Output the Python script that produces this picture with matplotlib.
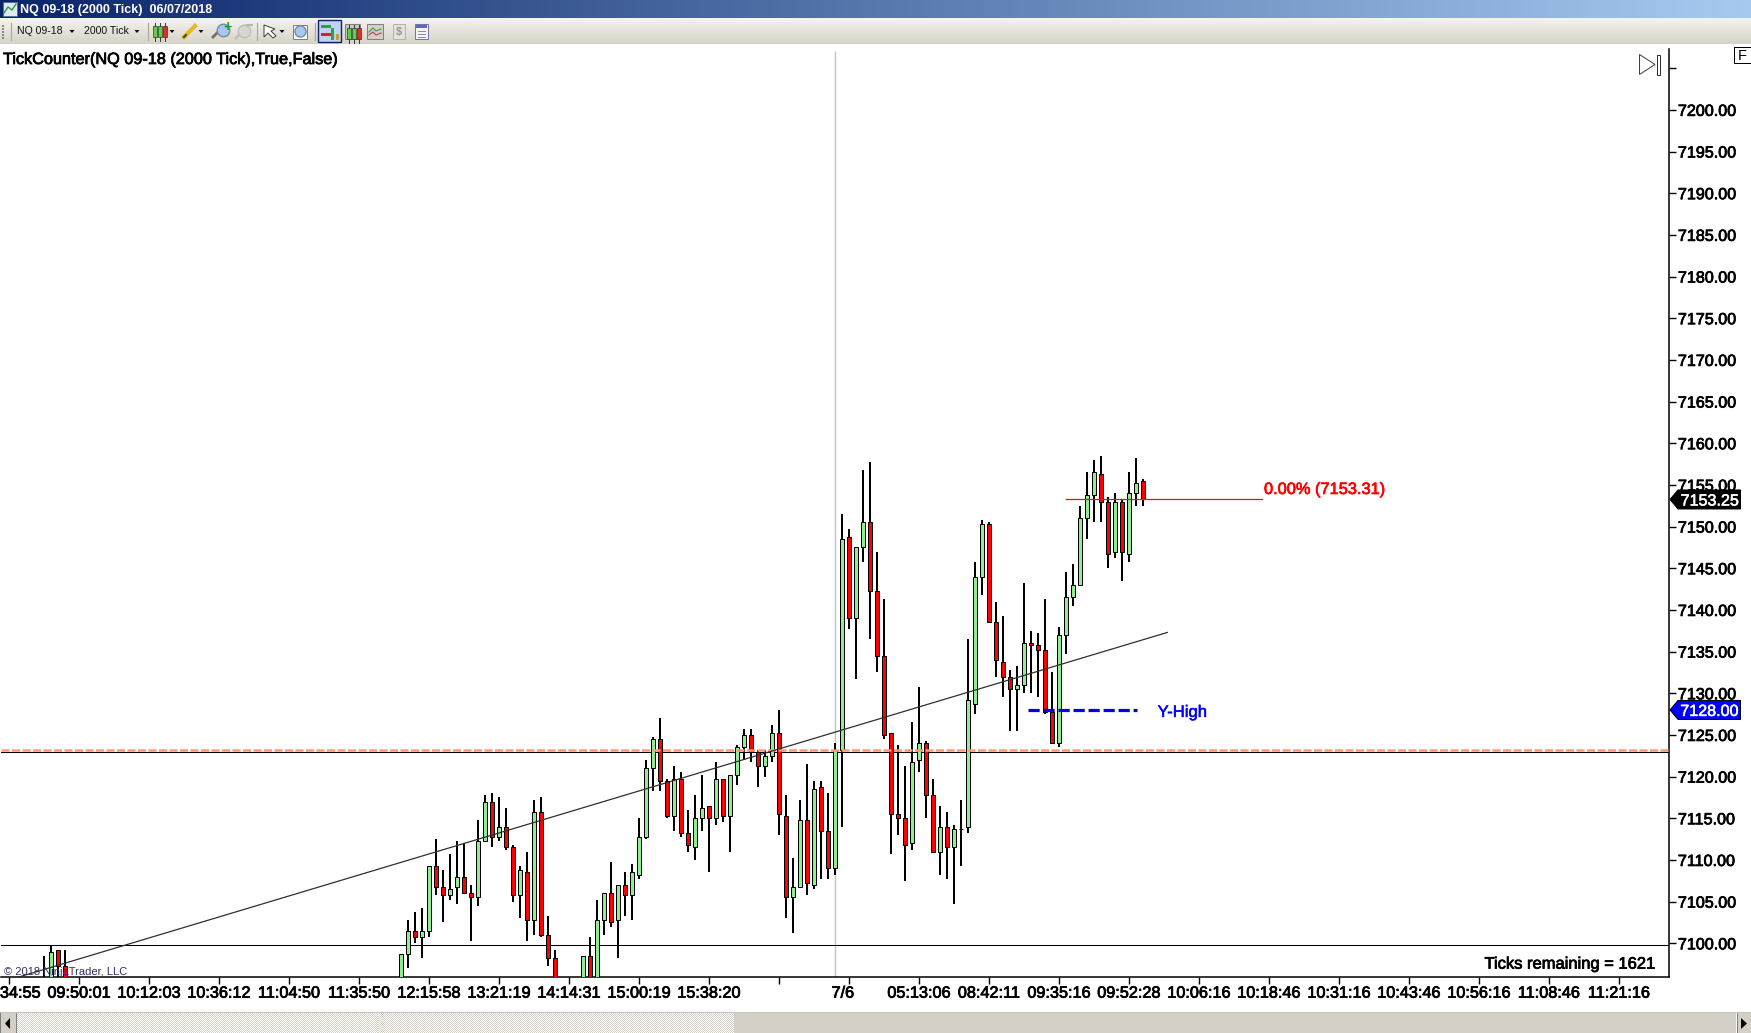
#!/usr/bin/env python
"""
Tick chart screenshot, NQ 09-18 (2000 Tick), with the window chrome around it.
Bars that sit below the visible price range are left out.
"""

import numpy as np
import matplotlib
matplotlib.use('Agg')
import matplotlib.pyplot as plt
import matplotlib.patheffects as pe
from matplotlib.colors import LinearSegmentedColormap
from matplotlib.patches import Polygon, Rectangle
from matplotlib.transforms import ScaledTranslation

plt.rcParams['font.family'] = ['Liberation Sans', 'DejaVu Sans']

W, H = 1751, 1033

# ------------ DATA ----------------------------

bar_index = [5, 6, 7, 8] + list(range(56, 79)) + list(range(82, 163))

opens = [7095, 7095, 7099.25, 7097.25,
         # 56
         7095, 7098.75, 7101.5, 7100.75, 7101.5, 7109.25, 7106.75, 7105.75, 7106.75, 7108,
         7106, 7105.5, 7112.25, 7117, 7112.75, 7114, 7111.5, 7105.75, 7108.5, 7102.75,
         7115.75, 7101, 7098.25,
         # 82
         7095, 7098.5, 7095, 7102.75, 7106, 7102.75, 7107, 7105.75, 7108.25, 7112.75,
         7121, 7124.5, 7119.5, 7115.25, 7119.75, 7113.25, 7111.5, 7115, 7116.5, 7115,
         7119.75, 7115.25, 7120.25, 7123.5, 7125, 7123, 7121.25, 7122.5, 7125.25,
         # 111
         7115.25, 7105.5, 7106.75, 7114.75, 7107, 7118.75, 7113.5, 7109, 7123.25, 7148.75,
         7139, 7147.5, 7150.5, 7142.25, 7134.5, 7125.25, 7115.5, 7115, 7112, 7122,
         7124, 7117.75, 7111, 7114, 7111.5, 7113.75, 7114, 7128.75, 7144, 7150.25,
         7138.5, 7133.75, 7132, 7130.5, 7131, 7136, 7135.75, 7135.25, 7127.75, 7124,
         7137, 7141.5, 7143, 7151, 7153.75, 7156.25, 7153, 7147, 7153, 7146.75,
         7154, 7155.5]

closes = [7095, 7099, 7097.25, 7095,
          # 56
          7098.75, 7101.5, 7100.75, 7101.5, 7109.25, 7106.75, 7105.75, 7106.5, 7108, 7106,
          7105.5, 7112.25, 7117, 7112.75, 7114, 7111.5, 7105.75, 7108.75, 7102.75, 7115.75,
          7101, 7098.25, 7095,
          # 82
          7098.5, 7095, 7102.75, 7106, 7102.5, 7107, 7105.75, 7108.5, 7112.75, 7121,
          7124.5, 7119.5, 7115.25, 7119.75, 7113.25, 7111.75, 7115, 7116.25, 7115, 7119.75,
          7115.25, 7120.25, 7123.5, 7125, 7123, 7121.25, 7122.5, 7125.25, 7115.5,
          # 111
          7105.5, 7106.75, 7114.75, 7107.25, 7118.5, 7113.5, 7109, 7123.25, 7148.5, 7139,
          7147.5, 7150.5, 7142.25, 7134.5, 7125, 7115.5, 7115, 7111.75, 7121.75, 7124,
          7117.75, 7111, 7114, 7111.5, 7113.75, 7113.75, 7129.25, 7144, 7150.25, 7138.5,
          7134, 7132, 7130.5, 7131, 7136, 7135.75, 7135.25, 7127.75, 7124, 7137,
          7141.5, 7143, 7151, 7153.75, 7156.5, 7153, 7146.75, 7153, 7147, 7154,
          7155.25, 7153.25]

highs = [7098.5, 7099.75, 7099.25, 7099.25,
         # 56
         7098.75, 7102.75, 7103.75, 7104.25, 7109.25, 7112.5, 7108.75, 7110.75, 7112.25, 7112,
         7107, 7114.75, 7117.75, 7118, 7117.5, 7116.25, 7111.75, 7109.25, 7111, 7117.25,
         7117.5, 7103.25, 7099.25,
         # 82
         7098.5, 7100.75, 7105.25, 7106, 7109.75, 7107, 7108.5, 7109.5, 7115, 7122,
         7124.75, 7127, 7119.75, 7121.25, 7120.5, 7116, 7117.75, 7120.25, 7116.5, 7121.75,
         7119.75, 7120.25, 7123.75, 7125.75, 7125.75, 7123.25, 7123.25, 7126.25, 7128,
         # 111
         7117.75, 7110.25, 7117.25, 7121.5, 7119.5, 7119.5, 7118, 7124, 7151.5, 7149.75,
         7147.5, 7156.75, 7157.75, 7147, 7141.25, 7125.25, 7123.75, 7121.25, 7126.5, 7130.75,
         7124.25, 7119.75, 7116.5, 7115.75, 7114.25, 7117.25, 7136.5, 7145.75, 7150.75, 7150.5,
         7141, 7139.25, 7132.75, 7133.25, 7143.25, 7137.5, 7137.25, 7141.25, 7132.5, 7138,
         7144.5, 7145.5, 7152.5, 7156.5, 7158, 7158.5, 7153.5, 7154, 7153.25, 7156.5,
         7158.25, 7155.75]

lows = [7095, 7095, 7095, 7095,
        # 56
        7095, 7097, 7100, 7098.25, 7100.75, 7105.75, 7102.5, 7105.25, 7104.75, 7106,
        7100.25, 7104.5, 7112.25, 7111.5, 7112.25, 7111.25, 7105, 7103, 7100.25, 7101,
        7100.75, 7097.25, 7095,
        # 82
        7095, 7095, 7095, 7101, 7102, 7098.25, 7103.25, 7102.75, 7107.75, 7112.5,
        7118.25, 7118.25, 7115, 7113.5, 7112.75, 7111, 7110, 7113.5, 7108.5, 7114.25,
        7114.5, 7111, 7119, 7122, 7121.75, 7118.75, 7120, 7121.75, 7113,
        # 111
        7103, 7101.25, 7106.75, 7105.75, 7106.5, 7107.75, 7107.75, 7108.25, 7114, 7137.75,
        7131.75, 7145.75, 7136.5, 7132.5, 7124.5, 7110.75, 7113, 7107.5, 7111.25, 7120.5,
        7115, 7111, 7108.25, 7107.75, 7104.75, 7109.25, 7113.25, 7127.5, 7141.75, 7138.5,
        7132, 7129.5, 7125.5, 7125.5, 7130, 7130, 7129.5, 7127.5, 7124, 7123.5,
        7134.75, 7140.5, 7143, 7148.5, 7150.5, 7150.5, 7145, 7146.25, 7143.5, 7145.75,
        7152.5, 7152.5]

y_ticks = [7100 + 5 * n for n in range(22)]
y_tick_labels = ['{:.2f}'.format(v) if v <= 7200 else '' for v in y_ticks]

x_ticks = list(range(0, 240, 10))
x_tick_labels = ['09:34:55', '09:50:01', '10:12:03', '10:36:12', '11:04:50', '11:35:50',
                 '12:15:58', '13:21:19', '14:14:31', '15:00:19', '15:38:20', '', '7/6',
                 '05:13:06', '08:42:11', '09:35:16', '09:52:28', '10:06:16', '10:18:46',
                 '10:31:16', '10:43:46', '10:56:16', '11:08:46', '11:21:16']

session_break = 118
last_price = 7153.25
y_high = 7128.00
fib_price = 7153.25
hline_black = [7123.0, 7099.75]
hline_salmon = 7123.25
trend_x = [1.2, 165.5]
trend_y = [7095.9, 7137.3]

STROKE = [pe.withStroke(linewidth=0.55, foreground='black')]
UP, DOWN = '#90ee90', '#ff0000'


# ------------ CHROME ----------------------------

def gradient(ax, box, c0, c1, horizontal):
    cmap = LinearSegmentedColormap.from_list('g', [c0, c1])
    g = np.linspace(0, 1, 256)
    g = g.reshape(1, -1) if horizontal else g.reshape(-1, 1)
    ax.imshow(g, extent=box, cmap=cmap, aspect='auto', zorder=1)


def rect(ax, x0, y0, x1, y1, fc='none', ec='none', lw=0.72, z=3):
    ax.add_patch(Rectangle((x0, y0), x1 - x0, y1 - y0, fc=fc, ec=ec, lw=lw, zorder=z))


def tri(ax, pts, fc='black', ec='none', lw=0.72, z=3):
    ax.add_patch(Polygon(pts, closed=True, fc=fc, ec=ec, lw=lw, zorder=z))


def mini_candles(ax, x0, y0, cols):
    for n, c in enumerate(cols):
        x = x0 + n * 5
        ax.plot([x + 1.5, x + 1.5], [y0 - 3, y0 + 15], color='#333333', lw=0.7, zorder=3)
        rect(ax, x, y0, x + 3.5, y0 + 11, fc=c, ec='#333333', lw=0.5)


def draw_chrome(ui):
    gradient(ui, [0, W, 18, 0], '#0a246a', '#a6caf0', True)
    gradient(ui, [0, W, 44, 18], '#f5f4ef', '#d6d2c8', False)

    # scroll bar, dithered track
    track = np.indices((21, 718)).sum(axis=0) % 2
    ui.imshow(track, extent=[16, 734, 1033, 1012], cmap=LinearSegmentedColormap.from_list(
        'd', ['#ffffff', '#d4d0c8']), aspect='auto', interpolation='nearest', zorder=1)
    rect(ui, 734, 1012, 1736, 1033, fc='#d4d0c8')
    rect(ui, 0, 1012, 16, 1033, fc='#d4d0c8', ec='#808080')
    rect(ui, 1737, 1012, W, 1033, fc='#d4d0c8', ec='#808080')
    ui.plot([0, W], [1012, 1012], color='#c8c5bc', lw=0.8, zorder=4)
    tri(ui, [(10, 1018), (10, 1029), (5, 1023.5)], z=5)
    tri(ui, [(1741, 1018), (1741, 1029), (1747, 1023.5)], z=5)

    # title bar
    rect(ui, 3, 2, 17, 16, fc='#dfe8f5', ec='#5a6f9a')
    ui.plot([4, 8, 12, 16], [13, 7, 10, 4], color='#2e9a3a', lw=1, zorder=4)
    ui.text(20, 9.5, 'NQ 09-18 (2000 Tick)  06/07/2018', color='white', fontsize=9,
            fontweight='bold', va='center', zorder=5)

    # toolbar
    for y in range(25, 38, 3):
        rect(ui, 2, y, 4, y + 1.5, fc='#8a8a80')
    for x in [11, 148, 257, 315]:
        ui.plot([x, x], [23, 40], color='#a8a59c', lw=0.8, zorder=3)
    ui.text(17, 31, 'NQ 09-18', fontsize=7.6, color='#111111', va='center', zorder=5)
    ui.text(84, 31, '2000 Tick', fontsize=7.6, color='#111111', va='center', zorder=5)
    for x in [72, 137, 172, 201, 282]:
        tri(ui, [(x - 2.5, 30), (x + 2.5, 30), (x, 33)])
    mini_candles(ui, 153, 26, ['#59d14a', '#59d14a', '#e03020'])
    ui.plot([184, 195], [37, 26], color='#e8b820', lw=3, zorder=3)
    ui.plot([184, 186], [37, 35], color='#404040', lw=1.5, zorder=4)
    ui.plot([213, 219], [37, 31], color='#707070', lw=2, zorder=3)
    ui.plot(223, 30, 'o', ms=9, mfc='#a9c8ee', mec='#7a8aa0', zorder=3)
    ui.text(227, 27, '+', color='#10a020', fontsize=10, fontweight='bold', ha='center',
            va='center', zorder=5)
    ui.plot([236, 241], [38, 33], color='#c4c2bb', lw=2, zorder=3)
    ui.plot(244, 31, 'o', ms=9, mfc='#d8d6d0', mec='#c0beb7', zorder=3)
    ui.plot([247, 252], [25, 25], color='#b8b6ae', lw=1.5, zorder=3)
    tri(ui, [(264, 25), (264, 37), (268, 33), (273, 38), (276, 36), (271, 31), (275, 29)],
        fc='white', ec='#404040')
    rect(ui, 293, 25, 307, 39, fc='white', ec='#808080')
    ui.plot(300, 31, 'o', ms=8, mfc='#a9c8ee', mec='#7a8aa0', zorder=4)
    rect(ui, 318, 20, 341, 42, fc='#c1d2ee', ec='#0a246a', lw=1)
    rect(ui, 321, 25, 331, 28, fc='#2fa23a', z=4)
    rect(ui, 321, 33, 331, 36, fc='#e02020', z=4)
    rect(ui, 331, 28, 334, 40, fc='#2fa23a', z=4)
    rect(ui, 336, 34, 339, 40, fc='#c8a020', z=4)
    rect(ui, 345, 24, 360, 39, fc='#c8c6be', ec='#808080')
    mini_candles(ui, 347, 28, ['#59d14a', '#59d14a', '#e03020'])
    rect(ui, 367, 24, 383, 39, fc='#d2d0c8', ec='#808080')
    ui.plot([369, 373, 376, 381], [32, 28, 31, 29], color='#3a9a4a', lw=0.8, zorder=4)
    ui.plot([369, 373, 376, 381], [35, 32, 35, 33], color='#c04040', lw=0.8, zorder=4)
    rect(ui, 393, 24, 405, 39, fc='#e4e2dc', ec='#b4b2aa')
    ui.text(399, 32, '$', fontsize=8, color='#9a9890', ha='center', va='center',
            fontweight='bold', zorder=5)
    rect(ui, 415, 24, 428, 39, fc='#f4f4fa', ec='#7a70b0')
    rect(ui, 416, 25, 427, 28, fc='#5a6ac8', z=4)
    for y in [31, 34, 37]:
        ui.plot([418, 425], [y, y], color='#8a8aa0', lw=0.7, zorder=4)

    # F box and the go to end button
    rect(ui, 1733.5, 47, 1750.5, 63, fc='white', ec='black')
    ui.text(1742, 55.5, 'F', fontsize=10.5, ha='center', va='center', zorder=5)
    tri(ui, [(1639.5, 54.5), (1639.5, 74.5), (1655, 64.5)], fc='white', ec='#404040')
    rect(ui, 1656.5, 54.5, 1659.5, 74.5, fc='white', ec='#303030')


def price_flag(ui, ax, price, color):
    """Price marker that sits on the right axis, tip touching the axis line."""
    y = H - ax.transData.transform((0, price))[1]
    tri(ui, [(1670, y), (1678, y - 9.5), (1740.5, y - 9.5), (1740.5, y + 9.5), (1678, y + 9.5)],
        fc=color, ec='black', z=8)
    ui.text(1739, y, '{:.2f}'.format(price), color='white', fontsize=11.6, ha='right',
            va='center_baseline', zorder=9,
            path_effects=[pe.withStroke(linewidth=0.4, foreground='white')])


# ------------ PLOTTERS ----------------------------

def plot_candles(ax):
    idx = np.array(bar_index)
    o, c = np.array(opens), np.array(closes)
    bottom = np.minimum(o, c)
    height = np.abs(c - o)
    colors = [UP if cc >= oo else DOWN for oo, cc in zip(o, c)]
    ax.vlines(idx, lows, highs, color='black', lw=1.44, zorder=3)
    ax.bar(idx, height, bottom=bottom, width=0.58, color=colors, edgecolor='black',
           linewidth=0.72, zorder=4)


def main():
    fig = plt.figure(figsize=(W / 100, H / 100), dpi=100, facecolor='white')

    ui = fig.add_axes([0, 0, 1, 1], zorder=3)
    ui.patch.set_alpha(0)
    ui.axis('off')

    ax = fig.add_axes([1 / W, (H - 977.3) / H, 1668.3 / W, 928.3 / H], zorder=2)
    ax.set_xlim(-1.129, 237.2)
    ax.set_ylim(7095.92, 7207.3)
    ax.spines['top'].set_visible(False)
    ax.spines['left'].set_visible(False)
    ax.spines['right'].set_linewidth(1.1)
    ax.spines['bottom'].set_linewidth(1.1)

    ax.yaxis.tick_right()
    ax.set_yticks(y_ticks)
    ax.set_yticklabels(y_tick_labels, fontsize=11.6, path_effects=STROKE)
    ax.tick_params(axis='y', length=5, width=1, pad=1.2)
    ax.set_xticks(x_ticks)
    ax.set_xticklabels(x_tick_labels, fontsize=11.7, path_effects=STROKE)
    ax.tick_params(axis='x', length=5, width=1, pad=1)

    # the date label sits a little left of its tick
    date_lbl = ax.get_xticklabels()[x_tick_labels.index('7/6')]
    date_lbl.set_transform(date_lbl.get_transform() + ScaledTranslation(-6 / 100, 0, fig.dpi_scale_trans))

    plot_candles(ax)

    ax.axvline(session_break, ymax=0.997, color='#c4c4c4', lw=1.0, zorder=2)
    for p in hline_black:
        ax.axhline(p, color='black', lw=0.75, zorder=2)
    ax.axhline(hline_salmon, color='#ff9a78', lw=1.8, ls=(0, (3.2, 1)), zorder=5)
    ax.plot(trend_x, trend_y, color='#303030', lw=0.9, zorder=6)

    ax.plot([151, 179], [fib_price, fib_price], color='#e81010', lw=0.9, zorder=6)
    ax.text(179.3, fib_price + 1.2, '0.00% (7153.31)', color='#ff0000', fontsize=11.8,
            va='center', zorder=7, path_effects=[pe.withStroke(linewidth=0.5, foreground='#ff0000')])
    ax.plot([145.6, 161.2], [y_high, y_high], color='#0000f0', lw=2.3, ls=(0, (3.5, 1.2)), zorder=6)
    ax.text(164.1, y_high - 0.3, 'Y-High', color='#0000ff', fontsize=12, va='center', zorder=7,
            path_effects=[pe.withStroke(linewidth=0.35, foreground='#0000ff')])

    ax.text(235.3, 7097.5, 'Ticks remaining = 1621', ha='right', va='center', fontsize=11.9,
            zorder=7, path_effects=STROKE)
    ax.text(0.0018, 0.0008, '\u00a9 2018 NinjaTrader, LLC', transform=ax.transAxes, fontsize=8,
            color='#303060', va='bottom', zorder=7)
    fig.text(3 / W, 1 - 59.5 / H, 'TickCounter(NQ 09-18 (2000 Tick),True,False)', fontsize=11.7,
             va='center', path_effects=STROKE)

    draw_chrome(ui)
    ui.set_xlim(0, W)
    ui.set_ylim(H, 0)
    price_flag(ui, ax, last_price, 'black')
    price_flag(ui, ax, y_high, '#0000ff')

    fig.savefig('out.png', dpi=100)


if __name__ == "__main__":
    main()
